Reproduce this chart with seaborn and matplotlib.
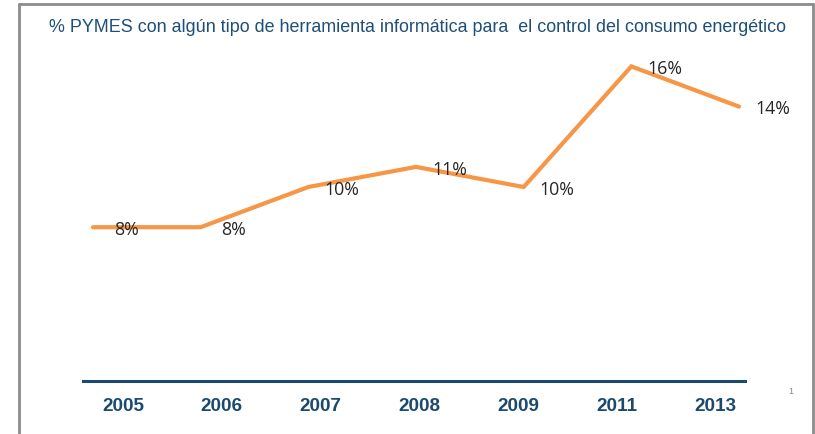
import matplotlib
matplotlib.use("Agg")
import matplotlib.pyplot as plt
import seaborn as sns
import pandas as pd
from matplotlib.lines import Line2D

years = ["2005", "2006", "2007", "2008", "2009", "2011", "2013"]
values = [8, 8, 10, 11, 10, 16, 14]
labels = ["8%", "8%", "10%", "11%", "10%", "16%", "14%"]
title = "% PYMES con algún tipo de herramienta informática para  el control del consumo energético"

sns.set_theme(style="white")
plt.rcParams["font.family"] = ["Liberation Sans", "DejaVu Sans"]

df = pd.DataFrame({"year": years, "value": values})

W, H = 815, 434
fig = plt.figure(figsize=(W / 100, H / 100), dpi=100)
fig.patch.set_facecolor("white")

def fx(px):
    return px / W

def fy(py):
    return 1 - py / H

ax_l, ax_r, ax_t, ax_b = 83, 745, 40, 381
ax = fig.add_axes([fx(ax_l), fy(ax_b), fx(ax_r - ax_l), (ax_b - ax_t) / H])

sns.lineplot(data=df, x="year", y="value", ax=ax, color="#F79646", linewidth=3,
             sort=False, solid_capstyle="round", solid_joinstyle="miter")

ax.set_xlim(-10 / 107.67, 6 + 6 / 107.67)
ax.set_ylim(7 / 20.1, 7 / 20.1 + (ax_b - ax_t) / 20.1)

for i, (v, lab) in enumerate(zip(values, labels)):
    ax.annotate(lab, (i, v), xytext=(24, -2), textcoords="offset points",
                ha="center", va="center", fontsize=12.8, color="#262626",
                family=["Open Sans", "DejaVu Sans"])

for s in ["top", "left", "right"]:
    ax.spines[s].set_visible(False)
ax.spines["bottom"].set_color("#1B4A6E")
ax.spines["bottom"].set_linewidth(2.2)
ax.set_yticks([])
ax.set_xticks([])
ax.set_xlabel("")
ax.set_ylabel("")
ax.patch.set_alpha(0)

# category labels on a twin axis
ax2 = ax.twiny()
ax2.set_xlim((ax_l - 123) / 98.8, (ax_r - 123) / 98.8)
ax2.set_xticks(range(len(years)))
ax2.set_xticklabels(years, fontsize=13.6, fontweight="bold", color="#1B4A6E")
ax2.xaxis.set_ticks_position("bottom")
ax2.xaxis.set_label_position("bottom")
ax2.tick_params(axis="x", length=0, pad=12)
for s in ax2.spines.values():
    s.set_visible(False)

fig.text(fx(417), fy(27), title, ha="center", va="center", fontsize=12.9,
         color="#1F4E79", family=["Liberation Sans", "DejaVu Sans"])

fig.text(fx(791), fy(391), "1", ha="center", va="center", fontsize=6.5, color="#888888")

# frame
frame_kw = dict(color="#8C8C8C", linewidth=2, transform=fig.transFigure)
fig.add_artist(Line2D([fx(19), fx(813)], [fy(4), fy(4)], **frame_kw))
fig.add_artist(Line2D([fx(19), fx(19)], [fy(4), 0], **frame_kw))
fig.add_artist(Line2D([fx(813), fx(813)], [fy(4), 0], **frame_kw))

fig.savefig("out.png", dpi=100)
